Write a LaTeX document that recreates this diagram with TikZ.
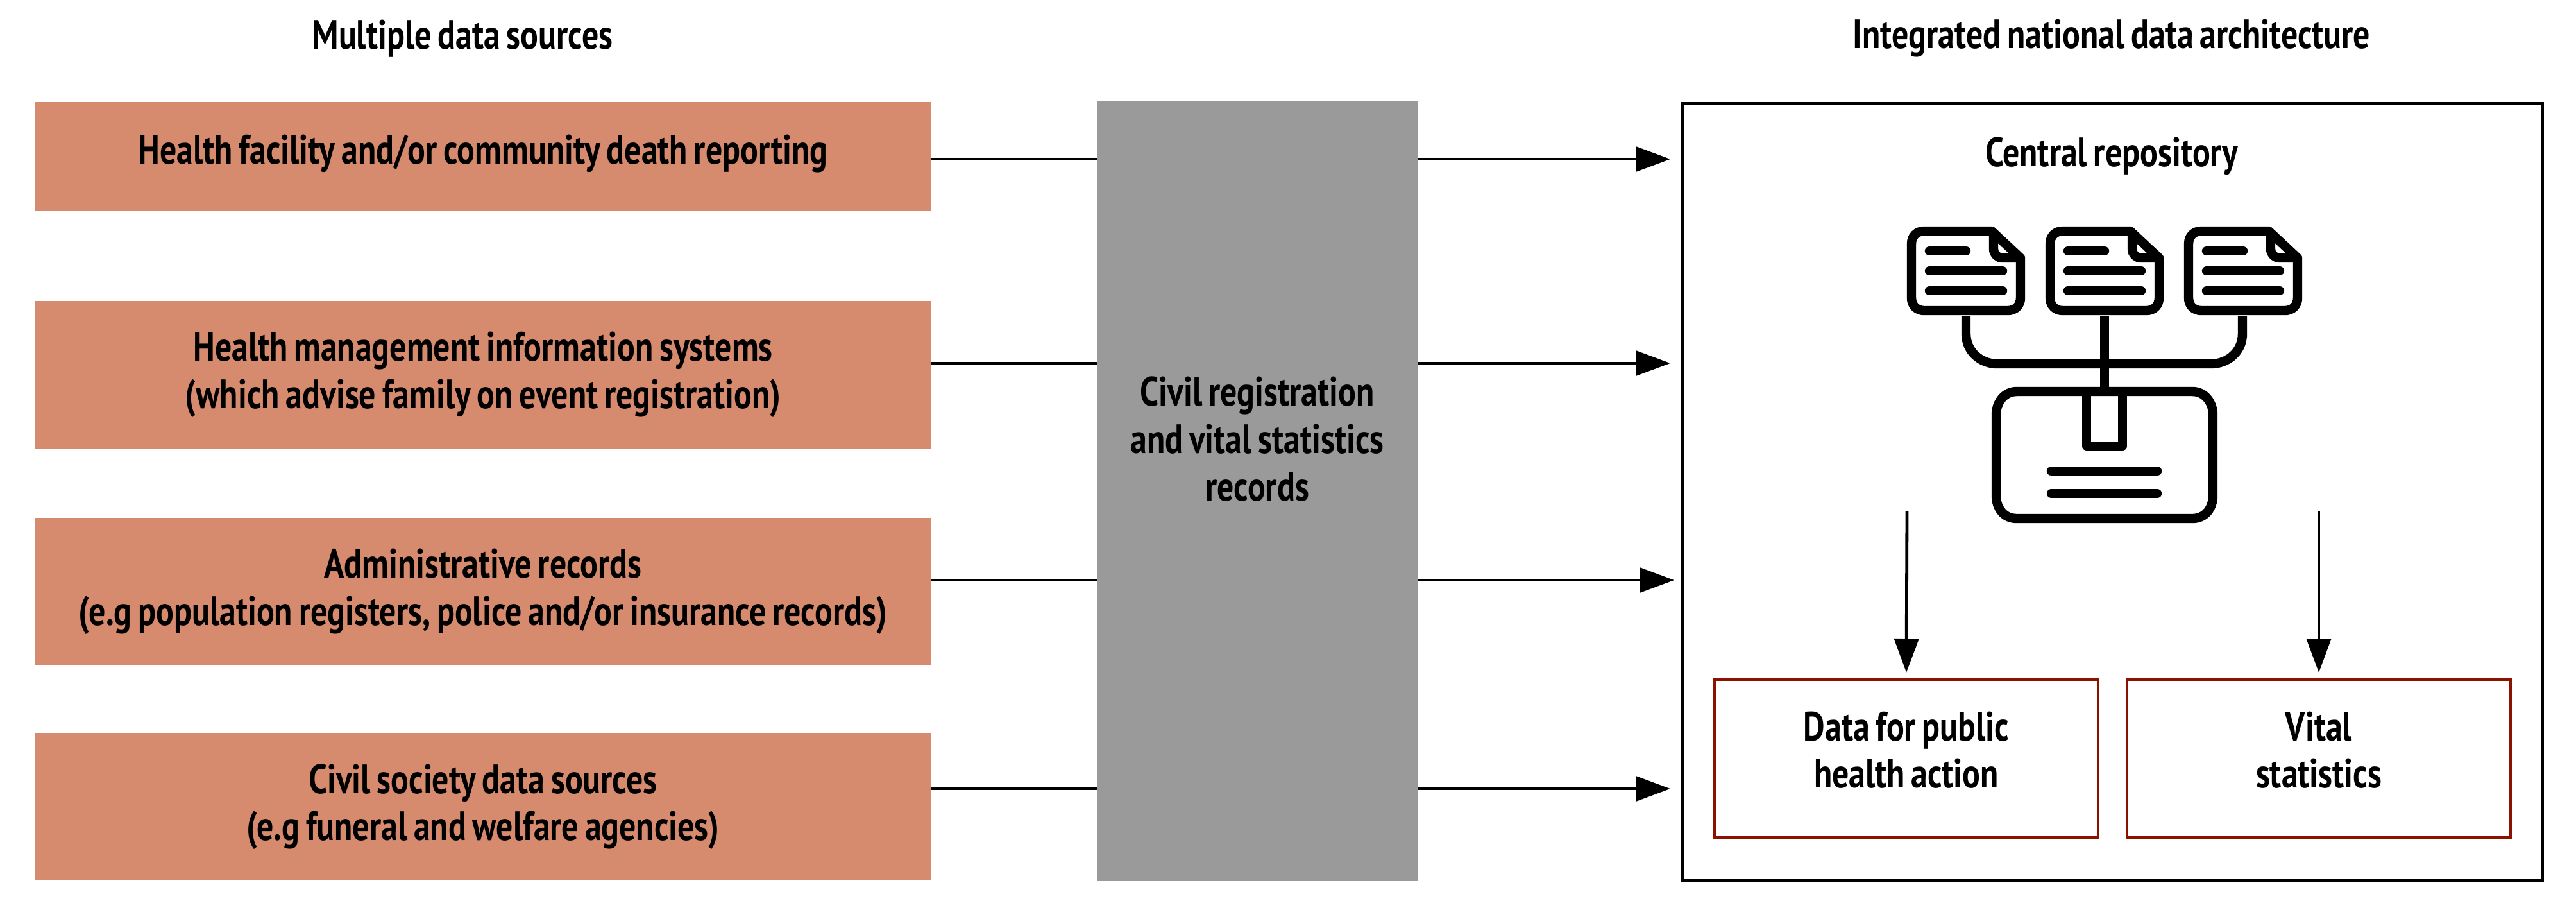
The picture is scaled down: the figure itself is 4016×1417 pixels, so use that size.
\documentclass[tikz,border=0pt]{standalone}
\usepackage{fontspec}
\setmainfont{PT Sans}[FakeStretch=0.81,WordSpace=0.75]
\usetikzlibrary{arrows.meta}
\definecolor{sourcefill}{RGB}{214,138,110}
\definecolor{recordfill}{RGB}{154,154,154}
\definecolor{outputline}{RGB}{140,18,0}
\tikzset{
  label/.style={inner sep=0pt,outer sep=0pt,align=center,font=\bfseries\fontsize{16}{18.4}\selectfont},
  sourcebox/.style={label,fill=sourcefill,anchor=north west,minimum width=349.5pt},
  outputbox/.style={label,draw=outputline,line width=1.2pt,anchor=north west,minimum width=149.5pt,minimum height=61.5pt,text depth=6.8pt},
  feed/.style={draw=black,line width=1.2pt},
  flow/.style={feed,-{Triangle[length=13.25pt,width=9.5pt]}},
  icon/.style={draw=black,line width=3.6pt,line join=round},
  iconrule/.style={icon,line cap=round}
}
\begin{document}
\begin{tikzpicture}[x=.25pt,y=-.25pt]
\path[use as bounding box] (0,0) rectangle (4016,1417);
\node[label] (srctitle) at (721,60) {Multiple data sources};
\node[label] (archtitle) at (3292,60) {Integrated national data architecture};
\node[sourcebox,minimum height=42.5pt,text depth=5.5pt] (deaths) at (54,159) {Health facility and/or community death reporting};
\node[sourcebox,minimum height=57.5pt] (hmis) at (54,469) {Health management information systems\\(which advise family on event registration)};
\node[sourcebox,minimum height=57.5pt] (admin) at (54,807) {Administrative records\\(e.g population registers, police and/or insurance records)};
\node[sourcebox,minimum height=57.5pt] (civil) at (54,1142) {Civil society data sources\\(e.g funeral and welfare agencies)};
\node[fill=recordfill,anchor=north west,minimum width=125pt,minimum height=303.75pt,inner sep=0pt,outer sep=0pt] (crvs) at (1711,158) {};
\node[label] (crvstext) at (1960,684) {Civil registration\\and vital statistics\\records};
\node[draw=black,line width=1.25pt,anchor=north west,minimum width=335pt,minimum height=302.5pt,inner sep=0pt,outer sep=0pt] (arch) at (2623,161) {};
\node[label] (repo) at (3292,243) {Central repository};
\node[outputbox] (action) at (2673,1059) {Data for public\\health action};
\node[outputbox] (vital) at (3316,1059) {Vital\\statistics};
% connectors
\coordinate (in1) at (1452,248);
\coordinate (in2) at (1452,566);
\coordinate (in3) at (1452,904);
\coordinate (in4) at (1452,1229);
\coordinate (mid1) at (1711,248);
\coordinate (mid2) at (1711,566);
\coordinate (mid3) at (1711,904);
\coordinate (mid4) at (1711,1229);
\coordinate (out1) at (2211,248);
\coordinate (out2) at (2211,566);
\coordinate (out3) at (2211,904);
\coordinate (out4) at (2211,1229);
\coordinate (tip1) at (2604,248);
\coordinate (tip2) at (2604,566);
\coordinate (tip3) at (2610,904);
\coordinate (tip4) at (2604,1229);
\foreach \n in {1,2,3,4} {
  \draw[feed] (in\n) -- (mid\n);
  \draw[flow] (out\n) -- (tip\n);
}
\coordinate (drop1) at (2973,797);
\coordinate (drop2) at (3615,797);
\draw[flow] (drop1) -- (action.north |- 0,1048);
\draw[flow] (drop2) -- (vital.north |- 0,1048);
% icon
\foreach \dx in {0,216,432} {
  \begin{scope}[xshift=\dx*.25pt]
    \draw[icon,fill=white] (3000,360) -- (3105,360) -- (3150,402) -- (3150,464) .. controls (3150,476) and (3142,484) .. (3130,484) -- (3000,484) .. controls (2988,484) and (2980,476) .. (2980,464) -- (2980,380) .. controls (2980,368) and (2988,360) .. (3000,360) -- cycle;
    \draw[icon] (3108,360) -- (3108,388) .. controls (3108,396) and (3114,402) .. (3122,402) -- (3150,402);
    \draw[iconrule] (3008,391) -- (3065,391);
    \draw[iconrule] (3008,422) -- (3122,422);
    \draw[iconrule] (3008,453) -- (3122,453);
  \end{scope}
}
\draw[icon] (3065,492) -- (3065,520) .. controls (3065,548) and (3088,567) .. (3114,567) -- (3447,567) .. controls (3473,567) and (3496,548) .. (3496,520) -- (3496,492);
\draw[icon] (3281,492) -- (3281,610);
\draw[icon] (3144,610) -- (3418,610) .. controls (3438,610) and (3450,628) .. (3450,646) -- (3450,772) .. controls (3450,792) and (3438,808) .. (3418,808) -- (3144,808) .. controls (3124,808) and (3112,792) .. (3112,772) -- (3112,646) .. controls (3112,628) and (3124,610) .. (3144,610) -- cycle;
\draw[icon] (3253,610) -- (3253,695) -- (3309,695) -- (3309,610);
\draw[iconrule] (3198,734) -- (3363,734);
\draw[iconrule] (3198,769) -- (3363,769);
\end{tikzpicture}
\end{document}
